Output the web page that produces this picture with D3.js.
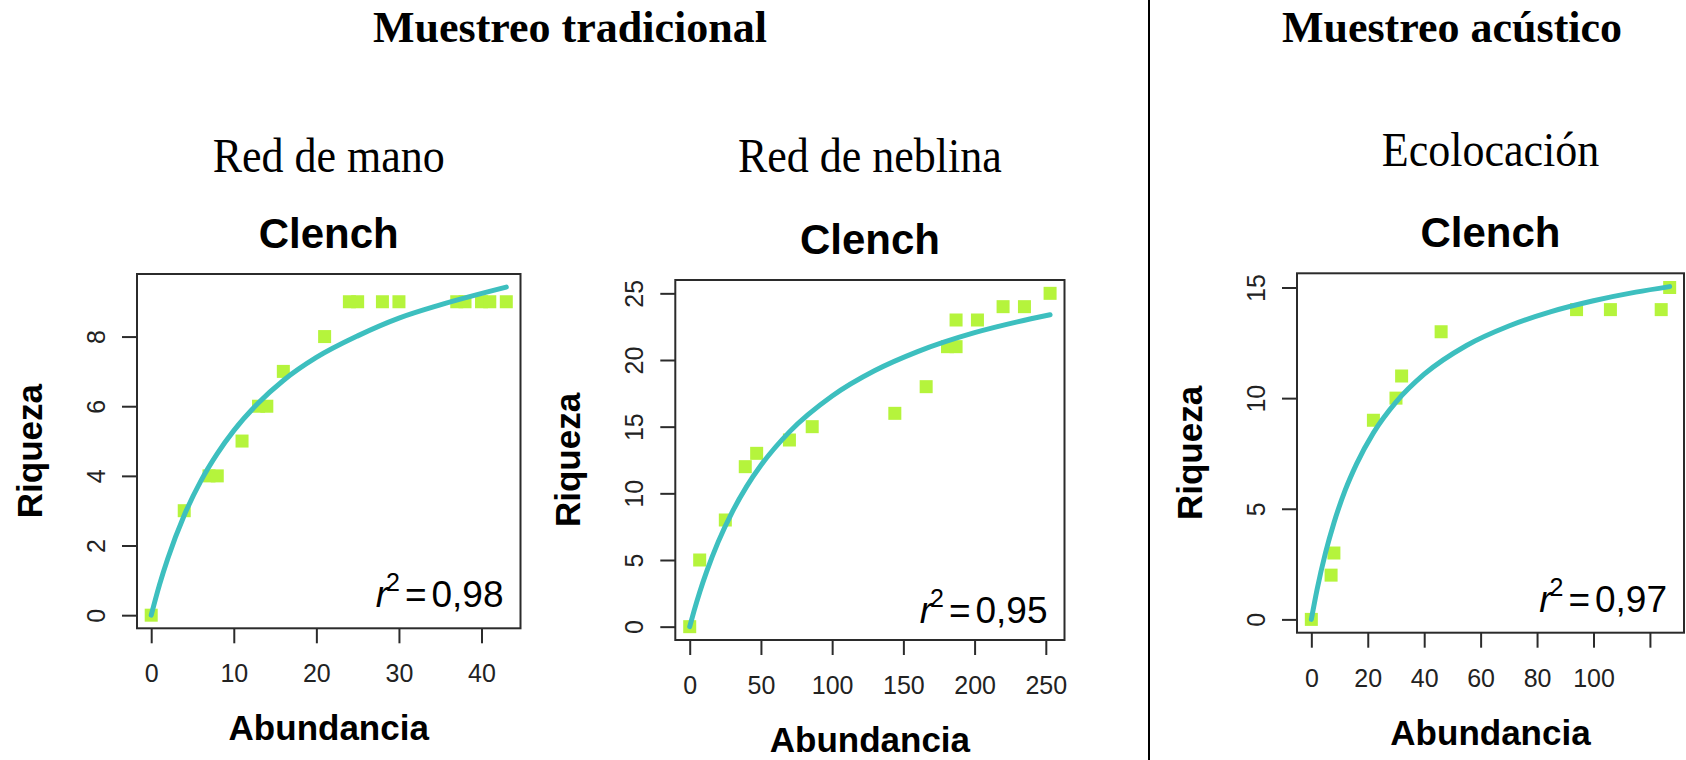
<!DOCTYPE html>
<html>
<head>
<meta charset="utf-8">
<script src="https://cdn.jsdelivr.net/npm/d3@7"></script>
<style>
  body { margin: 0; background: #fff; }
  svg { display: block; }
</style>
</head>
<body>
<script>
// --- data ---
// Red de mano
var abundancia1 = [0, 4, 7, 8, 11, 13, 14, 16, 21, 24, 25, 28, 30, 37, 38, 40, 41, 43],
    riqueza1    = [0, 3, 4, 4, 5, 6, 6, 7, 8, 9, 9, 9, 9, 9, 9, 9, 9, 9],
    curvaX1     = [0, 1, 2, 4, 6, 8, 10, 13, 16, 20, 25, 30, 35, 43],
    curvaY1     = [0, 0.87, 1.62, 2.87, 3.85, 4.64, 5.3, 6.1, 6.74, 7.4, 8.02, 8.53, 8.91, 9.42],
    yTicks1     = [0, 2, 4, 6, 8],
    xTicks1     = [0, 10, 20, 30, 40];
// Red de neblina
var abundancia2 = [0, 7, 25, 39, 47, 70, 86, 144, 166, 181, 187, 187, 202, 220, 235, 253],
    riqueza2    = [0, 5, 8, 12, 13, 14, 15, 16, 18, 21, 21, 23, 23, 24, 24, 25],
    curvaX2     = [0, 3, 7, 12, 20, 30, 40, 50, 70, 100, 130, 160, 200, 230, 253],
    curvaY2     = [0, 1.16, 2.58, 4.16, 6.36, 8.63, 10.52, 12.1, 14.61, 17.3, 19.21, 20.63, 22.05, 22.86, 23.39],
    yTicks2     = [0, 5, 10, 15, 20, 25],
    xTicks2     = [0, 50, 100, 150, 200, 250];
// Ecolocación
var abundancia3 = [0, 7, 8, 22, 30, 32, 46, 94, 106, 124, 127],
    riqueza3    = [0, 2, 3, 9, 10, 11, 13, 14, 14, 14, 15],
    curvaX3     = [0, 2, 5, 8, 12, 16, 22, 30, 40, 55, 70, 85, 100, 115, 127],
    curvaY3     = [0, 1.33, 3.0, 4.36, 5.84, 7.02, 8.43, 9.82, 11.08, 12.38, 13.26, 13.91, 14.4, 14.79, 15.04],
    yTicks3     = [0, 5, 10, 15],
    xTicks3     = [0, 20, 40, 60, 80, 100, 120],
    xLabels3    = [0, 20, 40, 60, 80, 100];

var r2Values = ['0,98', '0,95', '0,97'],
    metodos  = ['Red de mano', 'Red de neblina', 'Ecolocación'],
    grupos   = ['Muestreo tradicional', 'Muestreo acústico'];

var W = 1686, H = 760,
    sans = '"Liberation Sans", Arial, Helvetica, sans-serif',
    serif = '"Liberation Serif", "Times New Roman", Times, serif',
    lineColor = '#3dbfbf',
    pointColor = '#b5f43c';

var svg = d3.select('body').append('svg').attr('width', W).attr('height', H);

// panel boxes (px)
var panels = [
  {x: abundancia1, y: riqueza1, cx: curvaX1, cy: curvaY1, yt: yTicks1, xt: xTicks1, xl: xTicks1,
   box: [137, 274, 520.5, 628.3], sub: metodos[0], subY: 172, r2: r2Values[0], r2off: 21},
  {x: abundancia2, y: riqueza2, cx: curvaX2, cy: curvaY2, yt: yTicks2, xt: xTicks2, xl: xTicks2,
   box: [675.3, 280, 1064.5, 640], sub: metodos[1], subY: 172, r2: r2Values[1], r2off: 17},
  {x: abundancia3, y: riqueza3, cx: curvaX3, cy: curvaY3, yt: yTicks3, xt: xTicks3, xl: xLabels3,
   box: [1297, 273.3, 1684, 632.7], sub: metodos[2], subY: 166, r2: r2Values[2], r2off: 21}
];

// R style 4% padding on each side
function padded(vals) {
  var e = d3.extent(vals), p = (e[1] - e[0]) * 0.04;
  return [e[0] - p, e[1] + p];
}

// group headings + divider
svg.append('text').attr('x', 570).attr('y', 42).attr('text-anchor', 'middle')
  .style('font', 'bold 44px ' + serif).text(grupos[0]);
svg.append('text').attr('x', 1452).attr('y', 42).attr('text-anchor', 'middle')
  .style('font', 'bold 44px ' + serif).text(grupos[1]);
svg.append('line').attr('x1', 1149).attr('x2', 1149).attr('y1', 0).attr('y2', H)
  .attr('stroke', '#000').attr('stroke-width', 2);

panels.forEach(function(p) {
  var l = p.box[0], t = p.box[1], r = p.box[2], b = p.box[3];
  var x = d3.scaleLinear().domain(padded(p.x.concat(p.cx))).range([l, r]);
  var y = d3.scaleLinear().domain(padded(p.y.concat(p.cy))).range([b, t]);
  var g = svg.append('g');

  g.append('text').attr('transform', 'translate(' + ((l + r) / 2) + ',' + p.subY + ') scale(1,1.08)')
    .attr('text-anchor', 'middle')
    .style('font', '44px ' + serif).text(p.sub);
  g.append('text').attr('x', (l + r) / 2).attr('y', t - 26).attr('text-anchor', 'middle')
    .style('font', 'bold 42px ' + sans).text('Clench');

  // points
  g.selectAll('rect.pt').data(p.x).enter().append('rect')
    .attr('class', 'pt')
    .attr('x', function(d) { return x(d) - 6.5; })
    .attr('y', function(d, i) { return y(p.y[i]) - 6.5; })
    .attr('width', 13).attr('height', 13)
    .attr('fill', pointColor);

  // fitted curve
  var line = d3.line()
    .x(function(d) { return x(d); })
    .y(function(d, i) { return y(p.cy[i]); })
    .curve(d3.curveMonotoneX);
  g.append('path').attr('d', line(p.cx))
    .attr('fill', 'none').attr('stroke', lineColor)
    .attr('stroke-width', 5).attr('stroke-linecap', 'round');

  // box
  g.append('rect').attr('x', l).attr('y', t).attr('width', r - l).attr('height', b - t)
    .attr('fill', 'none').attr('stroke', '#2b2b2b').attr('stroke-width', 2);

  // axes
  var xa = g.append('g').attr('transform', 'translate(0,' + b + ')')
    .call(d3.axisBottom(x).tickValues(p.xt).tickSize(15)
      .tickFormat(function(d) { return p.xl.indexOf(d) < 0 ? '' : d; }));
  var ya = g.append('g').attr('transform', 'translate(' + l + ',0)')
    .call(d3.axisLeft(y).tickValues(p.yt).tickSize(15));
  [xa, ya].forEach(function(a) {
    a.select('.domain').remove();
    a.selectAll('line').attr('stroke', '#2b2b2b').attr('stroke-width', 2);
    a.selectAll('text').attr('fill', '#222').style('font', '25px ' + sans);
  });
  xa.selectAll('text').attr('y', 54).attr('dy', null);
  ya.selectAll('text').attr('x', null).attr('dy', null)
    .attr('text-anchor', 'middle')
    .attr('transform', 'translate(-32,0) rotate(-90)');

  // axis titles
  g.append('text').attr('x', (l + r) / 2).attr('y', b + 112).attr('text-anchor', 'middle')
    .style('font', 'bold 35px ' + sans).text('Abundancia');
  g.append('text').attr('text-anchor', 'middle')
    .attr('transform', 'translate(' + (l - 95) + ',' + ((t + b) / 2) + ') rotate(-90)')
    .style('font', 'bold 35px ' + sans).text('Riqueza');

  // r^2 label
  var rt = g.append('text').attr('x', r - 17).attr('y', b - p.r2off)
    .attr('text-anchor', 'end').style('font', '37px ' + sans).style('white-space', 'pre');
  rt.append('tspan').style('font-style', 'italic').text('r');
  rt.append('tspan').attr('dy', -16).attr('dx', -2).style('font-size', '25px').text('2');
  rt.append('tspan').attr('dy', 16).attr('dx', 5).text('=');
  rt.append('tspan').attr('dx', 5).text(p.r2);
});
</script>
</body>
</html>
